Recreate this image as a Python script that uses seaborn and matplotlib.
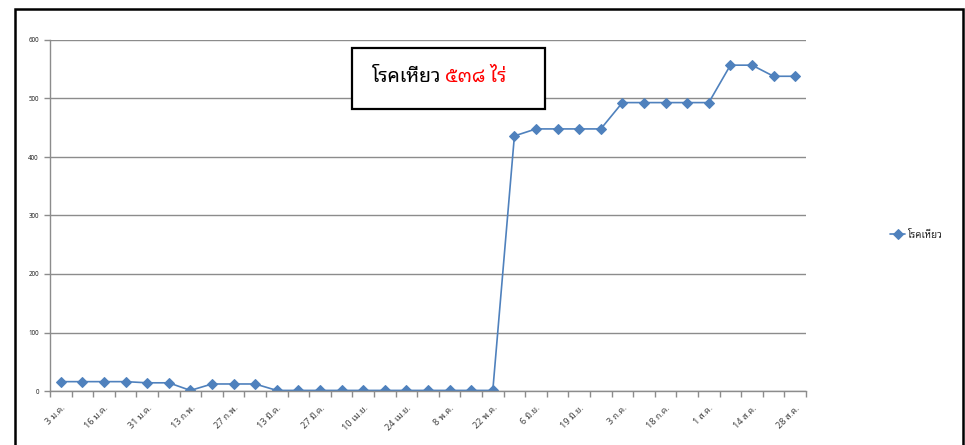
import matplotlib
matplotlib.use("Agg")
import matplotlib.pyplot as plt
import seaborn as sns
import pandas as pd
from matplotlib.patches import Rectangle

dates = ["3 ม.ค.", "", "16 ม.ค.", "", "31 ม.ค.", "", "13 ก.พ.", "", "27 ก.พ.", "",
         "13 มี.ค.", "", "27 มี.ค.", "", "10 เม.ย.", "", "24 เม.ย.", "", "8 พ.ค.", "",
         "22 พ.ค.", "", "6 มิ.ย.", "", "19 มิ.ย.", "", "3 ก.ค.", "", "18 ก.ค.", "",
         "1 ส.ค.", "", "14 ส.ค.", "", "28 ส.ค."]
wilt = [16, 16, 16, 16, 14, 14, 1, 12, 12, 12,
        1, 1, 1, 1, 1, 1, 1, 1, 1, 1,
        1, 436, 448, 448, 448, 448, 493, 493, 493, 493,
        493, 557, 557, 538, 538]

df = pd.DataFrame({"pos": range(len(wilt)), "area": wilt})

sns.set_style("white")
plt.rcParams["font.family"] = ["Noto Sans Thai Looped", "DejaVu Sans"]

fig = plt.figure(figsize=(9.65, 4.45), dpi=100)
ax = fig.add_axes([50 / 965, 54 / 445, 756 / 965, 351 / 445])

sns.lineplot(data=df, x="pos", y="area", ax=ax, color="#4F81BD", marker="D",
             markersize=5, markeredgecolor="#4F81BD", linewidth=1.2,
             label="โรคเหี่ยว")

ax.set_xlim(-0.5, len(wilt) - 0.5)
ax.set_ylim(0, 600)
ax.set_yticks(range(0, 601, 100))
ax.yaxis.grid(True, color="#8c8c8c", linewidth=1)
ax.set_xlabel("")
ax.set_ylabel("")

major = [i for i, d in enumerate(dates) if d]
ax.set_xticks(major)
ax.set_xticklabels([dates[i] for i in major], rotation=45, ha="right",
                   rotation_mode="anchor", fontsize=6.5, color="#404040")
ax.set_xticks([i - 0.5 for i in range(len(wilt) + 1)], minor=True)
ax.tick_params(axis="x", which="major", length=0, pad=9)
ax.tick_params(axis="x", which="minor", length=4, color="#8c8c8c", width=1,
               direction="out", bottom=True)
ax.tick_params(axis="y", labelsize=4.5, length=4, color="#8c8c8c", width=1,
               left=True, pad=4)

for s in ["top", "right"]:
    ax.spines[s].set_visible(False)
for s in ["left", "bottom"]:
    ax.spines[s].set_color("#8c8c8c")
    ax.spines[s].set_linewidth(1)

ax.legend(loc="center left", bbox_to_anchor=(1.1, 0.445), frameon=False,
          fontsize=7, handlelength=1.5, handletextpad=0.3)

# note box
fig.patches.append(Rectangle((352 / 965, 336 / 445), 193 / 965, 61 / 445,
                             transform=fig.transFigure, facecolor="white",
                             edgecolor="black", linewidth=1.6, zorder=5))
fig.text(372 / 965, 368 / 445, "โรคเหี่ยว", fontsize=14, va="center", ha="left",
         color="black", zorder=6)
fig.text(445 / 965, 368 / 445, "๕๓๘ ไร่", fontsize=14, va="center", ha="left",
         color="red", zorder=6)

# outer frame
fig.patches.append(Rectangle((15 / 965, -0.2), 948 / 965, 1.2 - 9 / 445,
                             transform=fig.transFigure, facecolor="none",
                             edgecolor="black", linewidth=1.8, zorder=10))

fig.savefig("out.png", dpi=100)
